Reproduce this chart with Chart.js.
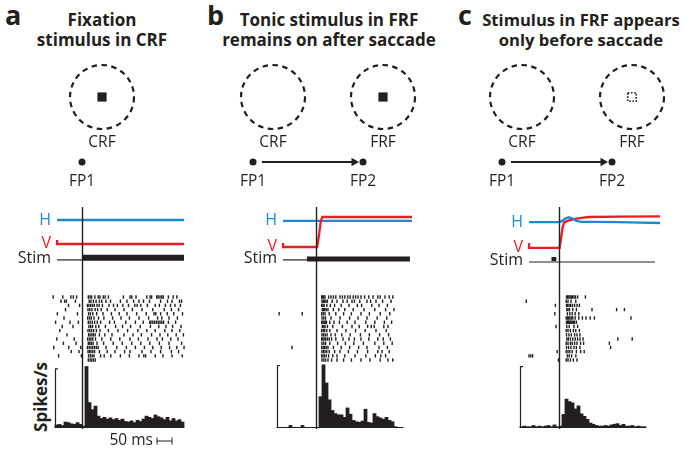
<!DOCTYPE html>
<html>
<head>
<meta charset="utf-8">
<script src="https://cdn.jsdelivr.net/npm/chart.js@4.4.1/dist/chart.umd.min.js"></script>
<style>
  body { margin: 0; width: 685px; height: 454px; position: relative; overflow: hidden; background: #fff; font-family: 'Open Sans', sans-serif; color: #231f20; }
  canvas { position: absolute; }
  .letter { position: absolute; top: 1px; font-size: 27px; line-height: 27px; font-weight: 700; }
  .title { position: absolute; top: 10px; width: 260px; text-align: center; font-size: 17px; line-height: 20px; font-weight: 700; }
  .ylab { position: absolute; left: 40px; top: 397px; font-size: 17px; font-weight: 700; white-space: nowrap; transform: translate(-50%, -50%) rotate(-90deg); }
</style>
</head>
<body>
<div class="letter" style="left:5px">a</div>
<div class="title" style="left:-28px">Fixation<br>stimulus in CRF</div>
<div class="letter" style="left:207px">b</div>
<div class="title" style="left:199px">Tonic stimulus in FRF<br>remains on after saccade</div>
<div class="letter" style="left:458px">c</div>
<div class="title" style="left:451px;font-size:16.6px">Stimulus in FRF appears<br>only before saccade</div>
<div class="ylab">Spikes/s</div>

<canvas id="schA" width="240" height="140" style="left:22px;top:55px"></canvas>
<canvas id="schB" width="240" height="140" style="left:193px;top:55px"></canvas>
<canvas id="schC" width="240" height="140" style="left:442px;top:55px"></canvas>

<canvas id="trA" width="188" height="63" style="left:2px;top:205px"></canvas>
<canvas id="raA" width="138" height="95" style="left:52px;top:268px"></canvas>
<canvas id="hiA" width="138" height="89" style="left:52px;top:363px"></canvas>

<canvas id="trB" width="194" height="63" style="left:221px;top:205px"></canvas>
<canvas id="raB" width="144" height="95" style="left:271px;top:268px"></canvas>
<canvas id="hiB" width="144" height="89" style="left:271px;top:363px"></canvas>

<canvas id="trC" width="197" height="63" style="left:464px;top:205px"></canvas>
<canvas id="raC" width="147" height="95" style="left:514px;top:268px"></canvas>
<canvas id="hiC" width="147" height="89" style="left:514px;top:363px"></canvas>

<script>
// ===== 데이터 =====
// 시간축: ms (a: 자극 onset 기준, b/c: saccade onset 기준)

// 도식 (visual degrees, FP1 = 0,0)
const fixA = [[0, 0]];
const fixBC = [[0, 0], [11, 0]];
const fieldsA = [[2, 6.5]];
const fieldsBC = [[2, 6.5], [13, 6.5]];
const stimSchemA = [[2, 6.5]];
const stimSchemB = [[13, 6.5]];
const stimSchemC = [[13, 6.5]];
const saccadeArrow = [[0.9, 0], [10.1, 0]];
const schemLabelsA = [['CRF', 2, 1.9], ['FP1', 0, -2]];
const schemLabelsBC = [['CRF', 2, 1.9], ['FRF', 13, 1.9], ['FP1', 0, -2], ['FP2', 11, -2]];

// 안구 위치 / 자극 trace
const traceNames = ['H', 'V', 'Stim'];
const hA = [[-83, 8], [340, 8]];
const vA = [[-83, 1.3], [-83, 0], [340, 0]];
const stimOffA = [[-83, -5.3], [0, -5.3]];
const stimOnA = [[0, -4.6], [340, -4.6]];

const hB = [[-110, 7.7], [320, 7.7]];
const vB = [[-110, 0.3], [-110, -1], [4, -1], [10, 3], [16, 7.6], [21, 9], [320, 9]];
const stimOffB = [[-110, -5.3], [-30, -5.3]];
const stimOnB = [[-30, -5.0], [313, -5.0]];

const hC = [[-100, 7.3], [2, 7.3], [10, 7.7], [20, 8.4], [32, 8.9], [45, 8.5], [58, 7.7], [75, 7.4], [120, 7.4], [200, 7.3], [270, 7.1], [337, 7.0]];
const vC = [[-100, 0.3], [-100, -1.3], [2, -1.3], [7, 2], [12, 5.5], [17, 7.2], [30, 7.8], [50, 8.3], [75, 8.7], [100, 9], [200, 9.1], [337, 9.2]];
const stimOffC = [[-100, -6], [320, -6]];
const stimOnC = [[-25, -5.0], [-9, -5.0]];

// raster (trial 별 spike 시각, ms)
const rasterA = [
  [-96, -64, -37, -29, -18, 21, 27, 32, 43, 54, 60, 71, 77, 88, 138, 160, 166, 180, 216, 227, 232, 249, 254, 260, 266, 271, 288, 304, 316],
  [-70, -58, -52, -22, 24, 30, 38, 47, 58, 66, 80, 95, 128, 150, 172, 190, 205, 225, 262, 285, 300, 325, 332],
  [-45, -8, 18, 23, 29, 35, 41, 50, 57, 68, 90, 105, 118, 136, 155, 176, 184, 196, 218, 244, 258, 278, 295, 310, 328],
  [-55, 20, 26, 33, 44, 52, 64, 84, 110, 140, 168, 200, 236, 274, 298, 322],
  [-82, -15, 22, 28, 36, 49, 70, 98, 124, 150, 182, 214, 240, 246, 262, 284, 306, 335],
  [-60, 19, 25, 31, 40, 55, 73, 102, 130, 158, 190, 222, 252, 266, 290, 318],
  [-88, -40, -12, 21, 27, 34, 42, 51, 62, 92, 108, 146, 178, 204, 226, 230, 236, 242, 248, 254, 260, 266, 272, 288, 312],
  [-66, -30, 23, 29, 35, 46, 56, 78, 112, 135, 162, 194, 228, 256, 280, 302, 330],
  [-74, 20, 26, 32, 39, 48, 60, 88, 120, 152, 186, 216, 244, 276, 300, 326],
  [-50, 22, 27, 33, 38, 44, 58, 76, 100, 140, 170, 198, 232, 260, 286, 314, 338],
  [-84, -26, 19, 25, 30, 36, 45, 66, 96, 126, 160, 188, 220, 250, 268, 296, 320],
  [-62, -20, 21, 26, 31, 37, 50, 72, 104, 134, 166, 196, 226, 258, 290, 332],
  [-94, -44, -4, 18, 24, 30, 36, 42, 48, 54, 80, 116, 148, 178, 208, 236, 264, 292, 316, 340],
  [-36, -10, 20, 25, 30, 36, 42, 58, 84, 110, 142, 160, 200, 230, 262, 298, 322],
  [-78, -2, 22, 28, 34, 40, 62, 74, 96, 128, 158, 190, 206, 212, 244, 270, 300, 334],
  [21, 27, 32, 38, 44]
];
const rasterB = [
  [19, 22, 26, 30, 42, 50, 58, 66, 80, 88, 96, 106, 114, 124, 132, 140, 150, 162, 176, 190, 206, 214, 230, 244, 256],
  [20, 24, 28, 33, 38, 54, 70, 90, 104, 120, 128, 146, 170, 182, 200, 222, 250],
  [19, 23, 27, 36, 48, 62, 84, 110, 138, 152, 186, 210, 238],
  [21, 25, 29, 34, 40, 58, 76, 96, 124, 160, 196, 232, 260],
  [-123, -46, 19, 24, 30, 44, 66, 92, 118, 150, 178, 214, 246],
  [20, 26, 32, 50, 80, 112, 140, 170, 204, 236],
  [19, 23, 27, 31, 35, 46, 60, 78, 104, 130, 166, 196, 228, 252],
  [21, 26, 30, 38, 56, 88, 120, 144, 172, 184, 194, 226, 240],
  [19, 24, 29, 36, 46, 70, 100, 132, 164, 200, 234],
  [20, 25, 31, 37, 50, 64, 86, 114, 148, 178, 212, 242],
  [19, 23, 27, 32, 38, 44, 52, 66, 90, 110, 128, 150, 176, 206, 224, 248],
  [20, 26, 32, 46, 72, 98, 126, 158, 196, 226, 254],
  [-80, 19, 24, 29, 34, 40, 58, 84, 112, 142, 170, 210, 238],
  [20, 25, 30, 36, 44, 62, 80, 108, 138, 172, 206, 220, 244],
  [19, 23, 28, 34, 42, 56, 70, 96, 130, 166, 198, 216, 232],
  [20, 26, 32, 40, 52, 70, 92, 118, 150, 180, 214, 240, 256]
];
const rasterC = [
  [25, 29, 33, 37, 41, 45, 50, 55, 62, 88],
  [-109, 24, 30, 40, 56],
  [-12, 25, 29, 34, 39, 45, 52, 60, 68],
  [26, 30, 35, 46, 58, 110, 192, 218],
  [-14, 28, 36, 44, 54, 66],
  [24, 28, 32, 36, 41, 46, 54, 66, 78, 90, 104, 118, 240],
  [25, 28, 31, 34, 37, 40, 44, 48, 52, 58],
  [-10, 26, 34, 50, 62],
  [24, 30, 38, 48, 56, 68],
  [25, 33, 41, 52, 60, 70],
  [26, 31, 38, 46, 54, 62, 70, 80, 196, 244],
  [24, 30, 38, 44, 52, 60, 72, 82, 168],
  [25, 32, 40, 50, 58, 70, 172],
  [-6, 24, 30, 36, 44, 58, 72, 84],
  [-100, -94, -88, 28, 34, 42, 56],
  [-2, 24, 30, 38, 48, 60]
];

// PSTH (spikes/s, 10 ms bin)
const binWidth = 10;
const histStartA = -90;
const histA = [5, 6, 4, 10, 9, 7, 6, 9, 6, 3, 104, 43, 31, 37, 20, 16, 18, 15, 17, 14, 16, 13, 15, 11, 10, 12, 9, 13, 11, 15, 20, 18, 16, 22, 19, 17, 14, 18, 12, 16, 12, 14, 10];
const histStartB = -130;
const histB = [1, 1, 1, 1, 4, 1, 1, 1, 4, 1, 1, 1, 1, 1, 50, 101, 72, 45, 28, 23, 21, 21, 17, 32, 22, 12, 10, 9, 11, 30, 9, 8, 23, 18, 16, 14, 17, 12, 10, 2, 1, 1];
const histStartC = -130;
const histC = [2, 3, 2, 2, 4, 2, 3, 2, 3, 4, 2, 5, 2, 3, 22, 47, 43, 41, 31, 36, 23, 19, 14, 8, 6, 4, 3, 3, 4, 3, 5, 6, 7, 4, 6, 3, 3, 4, 2, 3, 2, 2];

// ===== 스타일 =====
const INK = '#231f20';
const BLUE = '#1b8ad2';
const RED = '#e81e25';
const FONT = "'Open Sans', sans-serif";

Chart.defaults.font.family = FONT;
Chart.defaults.animation = false;
Chart.defaults.responsive = false;
Chart.defaults.events = [];
Chart.defaults.layout.autoPadding = false;
Chart.defaults.plugins.legend.display = false;
Chart.defaults.plugins.tooltip.enabled = false;

const toXY = arr => arr.map(([x, y]) => ({ x, y }));

// 점 dataset 에 점선 테두리 적용
const dashPlugin = {
  id: 'dashPoints',
  beforeDatasetDraw(chart, args) {
    const ds = chart.data.datasets[args.index];
    chart.ctx.save();
    if (ds.dash) chart.ctx.setLineDash(ds.dash);
  },
  afterDatasetDraw(chart) {
    chart.ctx.restore();
  }
};

// 도식 라벨 (CRF, FP1 ...)
const schemLabelPlugin = {
  id: 'schemLabels',
  afterDatasetsDraw(chart, args, opts) {
    const { ctx, scales: { x, y } } = chart;
    ctx.save();
    ctx.font = '15.5px ' + FONT;
    ctx.fillStyle = INK;
    ctx.textAlign = 'center';
    ctx.textBaseline = 'middle';
    (opts.items || []).forEach(([text, lx, ly]) => {
      ctx.fillText(text, x.getPixelForValue(lx), y.getPixelForValue(ly));
    });
    ctx.restore();
  }
};

// 0 ms 수직선
const zeroLinePlugin = {
  id: 'zeroLine',
  afterDatasetsDraw(chart, args, opts) {
    const { ctx } = chart;
    const x = Math.round(chart.scales.x.getPixelForValue(0)) + 0.5;
    const top = opts.top || 0;
    const bottom = opts.toBase ? chart.chartArea.bottom + 1 : chart.height;
    ctx.save();
    ctx.strokeStyle = INK;
    ctx.lineWidth = 1.4;
    ctx.beginPath();
    ctx.moveTo(x, top);
    ctx.lineTo(x, bottom);
    ctx.stroke();
    ctx.restore();
  }
};

// trace 라벨 (H, V, Stim)
const traceLabelPlugin = {
  id: 'traceLabels',
  afterDatasetsDraw(chart, args, opts) {
    const { ctx, scales: { x, y } } = chart;
    ctx.save();
    ctx.font = '16px ' + FONT;
    ctx.textAlign = 'right';
    ctx.textBaseline = 'middle';
    (opts.items || []).forEach(it => {
      ctx.fillStyle = it.color;
      ctx.fillText(it.text, x.getPixelForValue(it.t) - 6, y.getPixelForValue(it.y));
    });
    ctx.restore();
  }
};

// PSTH 축 + baseline (+ 50 ms scale bar)
const histAxisPlugin = {
  id: 'histAxis',
  afterDatasetsDraw(chart, args, opts) {
    const { ctx, scales: { x, y } } = chart;
    const ax = Math.round(x.getPixelForValue(opts.axisAt)) + 0.5;
    const y0 = y.getPixelForValue(0);
    const y1 = y.getPixelForValue(opts.axisTop);
    ctx.save();
    ctx.strokeStyle = INK;
    ctx.lineWidth = 1.2;
    ctx.beginPath();
    ctx.moveTo(ax, y0);
    ctx.lineTo(ax, y1);
    ctx.lineTo(ax + 2.5, y1);
    ctx.moveTo(ax, y0 - 0.5);
    ctx.lineTo(x.getPixelForValue(opts.baseEnd), y0 - 0.5);
    ctx.stroke();
    if (opts.bar) {
      const bx1 = x.getPixelForValue(opts.bar.from);
      const bx2 = x.getPixelForValue(opts.bar.to);
      const by = chart.chartArea.bottom + 13;
      ctx.lineWidth = 1;
      ctx.beginPath();
      ctx.moveTo(bx1, by); ctx.lineTo(bx2, by);
      ctx.moveTo(bx1, by - 3.5); ctx.lineTo(bx1, by + 3.5);
      ctx.moveTo(bx2, by - 3.5); ctx.lineTo(bx2, by + 3.5);
      ctx.stroke();
      ctx.font = '15.5px ' + FONT;
      ctx.fillStyle = INK;
      ctx.textAlign = 'right';
      ctx.textBaseline = 'middle';
      ctx.fillText(opts.bar.text, bx1 - 4, by);
    }
    ctx.restore();
  }
};

// ===== 차트 생성 =====
function makeSchematic(id, fix, fields, stim, dotted, labels, withArrow) {
  const datasets = [
    { data: toXY(fields), clip: false, pointStyle: 'circle', pointRadius: 32, pointBackgroundColor: 'rgba(0,0,0,0)', pointBorderColor: INK, pointBorderWidth: 2.2, dash: [5.5, 4.5] },
    dotted
      ? { data: toXY(stim), clip: false, pointStyle: 'rect', pointRadius: 6, pointBackgroundColor: 'rgba(0,0,0,0)', pointBorderColor: INK, pointBorderWidth: 1.6, dash: [1.6, 1.6] }
      : { data: toXY(stim), clip: false, pointStyle: 'rect', pointRadius: 6.5, pointBackgroundColor: INK, pointBorderColor: INK, pointBorderWidth: 0 },
    { data: toXY(fix), clip: false, pointStyle: 'circle', pointRadius: 3.5, pointBackgroundColor: INK, pointBorderWidth: 0 }
  ];
  if (withArrow) {
    datasets.push({ data: toXY(saccadeArrow), clip: false, showLine: true, borderColor: INK, borderWidth: 1.8,
      pointRadius: [0, 5], pointStyle: 'triangle', pointRotation: 90, pointBackgroundColor: INK, pointBorderWidth: 0 });
  }
  return new Chart(document.getElementById(id), {
    type: 'scatter',
    data: { datasets },
    options: {
      layout: { padding: 0 },
      scales: {
        x: { type: 'linear', display: false, min: -6, max: 18 },
        y: { type: 'linear', display: false, min: -3.3, max: 10.7 }
      },
      plugins: { schemLabels: { items: labels } }
    },
    plugins: [dashPlugin, schemLabelPlugin]
  });
}

function makeTraces(id, tMin, tMax, h, v, stimOff, stimOn, stimOnWidth, hOnTop) {
  const line = (arr, color, width, order) => ({
    data: toXY(arr), showLine: true, pointRadius: 0, borderColor: color, borderWidth: width,
    borderCapStyle: 'butt', tension: 0, order
  });
  return new Chart(document.getElementById(id), {
    type: 'scatter',
    data: {
      datasets: [
        line(h, BLUE, 2.3, hOnTop ? 0 : 1),
        line(v, RED, 2.3, hOnTop ? 1 : 0),
        line(stimOff, INK, 1.2, 2),
        line(stimOn, INK, stimOnWidth, 2)
      ]
    },
    options: {
      layout: { padding: { left: 50 } },
      scales: {
        x: { type: 'linear', display: false, min: tMin, max: tMax },
        y: { type: 'linear', display: false, min: -8, max: 13 }
      },
      plugins: {
        zeroLine: { top: 2 },
        traceLabels: {
          items: [
            { text: traceNames[0], color: BLUE, t: h[0][0], y: h[0][1] },
            { text: traceNames[1], color: RED, t: v[1][0], y: v[1][1] + 0.3 },
            { text: traceNames[2], color: INK, t: stimOff[0][0], y: stimOff[0][1] + 0.5 }
          ]
        }
      }
    },
    plugins: [zeroLinePlugin, traceLabelPlugin]
  });
}

function makeRaster(id, tMin, tMax, rows) {
  const pts = [];
  rows.forEach((spikes, r) => spikes.forEach(t => pts.push({ x: t, y: r })));
  return new Chart(document.getElementById(id), {
    type: 'scatter',
    data: {
      datasets: [{ data: pts, pointStyle: 'line', pointRotation: 90, pointRadius: 1.7,
        pointBorderColor: INK, pointBorderWidth: 1.4 }]
    },
    options: {
      layout: { padding: 0 },
      scales: {
        x: { type: 'linear', display: false, min: tMin, max: tMax },
        y: { type: 'linear', display: false, reverse: true, min: -6.9, max: 15.7 }
      },
      plugins: { zeroLine: {} }
    },
    plugins: [zeroLinePlugin]
  });
}

function makeHist(id, tMin, tMax, start, values, yMax, bar) {
  const data = values.map((v, i) => ({ x: start + binWidth * (i + 0.5), y: v }));
  return new Chart(document.getElementById(id), {
    type: 'bar',
    data: { datasets: [{ data, backgroundColor: INK, borderWidth: 0, barPercentage: 1, categoryPercentage: 1, inflateAmount: 0.4 }] },
    options: {
      layout: { padding: { bottom: 24 } },
      scales: {
        x: { type: 'linear', display: false, offset: false, min: tMin, max: tMax },
        y: { type: 'linear', display: false, min: 0, max: yMax }
      },
      plugins: {
        zeroLine: { toBase: true },
        histAxis: { axisAt: start, axisTop: 100, baseEnd: start + binWidth * values.length, bar }
      }
    },
    plugins: [histAxisPlugin, zeroLinePlugin]
  });
}

// panel a
makeSchematic('schA', fixA, fieldsA, stimSchemA, false, schemLabelsA, false);
makeTraces('trA', -100, 360, hA, vA, stimOffA, stimOnA, 6, false);
makeRaster('raA', -100, 360, rasterA);
makeHist('hiA', -100, 360, histStartA, histA, 110, { from: 250, to: 300, text: '50 ms' });

// panel b
makeSchematic('schB', fixBC, fieldsBC, stimSchemB, false, schemLabelsBC, true);
makeTraces('trB', -150, 330, hB, vB, stimOffB, stimOnB, 5, false);
makeRaster('raB', -150, 330, rasterB);
makeHist('hiB', -150, 330, histStartB, histB, 104, null);

// panel c
makeSchematic('schC', fixBC, fieldsBC, stimSchemC, true, schemLabelsBC, true);
makeTraces('trC', -150, 340, hC, vC, stimOffC, stimOnC, 4, true);
makeRaster('raC', -150, 340, rasterC);
makeHist('hiC', -150, 340, histStartC, histC, 106, null);
</script>
</body>
</html>
